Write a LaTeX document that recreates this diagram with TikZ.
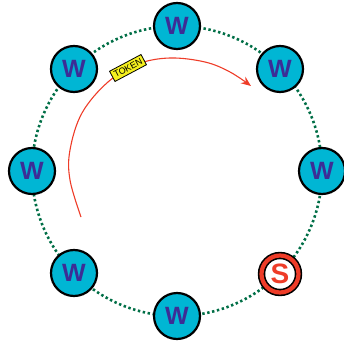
\documentclass[tikz,border=0pt]{standalone}
\usepackage{fontspec}
\setmainfont{Liberation Sans}
\usetikzlibrary{arrows.meta}
\begin{document}
\begin{tikzpicture}[x=1pt,y=-1pt,
  ring/.style={draw=ringgreen, line width=2.6pt, dash pattern=on 2.4pt off 2.6pt},
  worker/.style={circle, draw=black, line width=2.2pt, fill=wcyan, minimum size=46pt, inner sep=0pt,
    text=wpurple, font=\fontsize{25}{25}\selectfont\bfseries},
  server/.style={circle, draw=black, line width=1.6pt, fill=white, minimum size=37pt, inner sep=0pt,
    text=sred, font=\fontsize{28}{28}\selectfont\bfseries,
    double=sred, double distance=4.2pt},
  tokenbox/.style={draw=black, line width=0.8pt, fill=tyellow, inner xsep=2.4pt, inner ysep=2.6pt,
    font=\fontsize{9}{9}\selectfont, rotate=28},
  flow/.style={draw=sred, line width=1.1pt, -{Stealth[length=10pt,width=8pt]}}
]
\definecolor{ringgreen}{RGB}{0,110,70}
\definecolor{wcyan}{RGB}{0,182,212}
\definecolor{wpurple}{RGB}{60,45,150}
\definecolor{sred}{RGB}{238,60,40}
\definecolor{tyellow}{RGB}{245,240,30}
\useasboundingbox (0,0) rectangle (343,344);

% dotted ring linking the processes
\draw[ring] (177,171) circle (145);

% processes on the ring
\node[worker] (n1) at (177,26) {W};
\node[worker] (n2) at (280,69) {W};
\node[worker] (n3) at (322,171) {W};
\node[server] (s)  at (280,274) {S};
\node[worker] (n5) at (177,316) {W};
\node[worker] (n6) at (74,273) {W};
\node[worker] (n7) at (32,171) {W};
\node[worker] (n8) at (74,69) {W};

% token travelling around
\coordinate (a0) at (81,217);
\coordinate (a1) at (251,86);
\draw[flow] plot[smooth, tension=0.6] coordinates
  {(a0) (70,180) (70,150) (82,113) (108,82) (138,64) (170,58) (205,62) (230,72) (a1)};
\node[tokenbox] (tok) at (128,68) {TOKEN};
\end{tikzpicture}
\end{document}
